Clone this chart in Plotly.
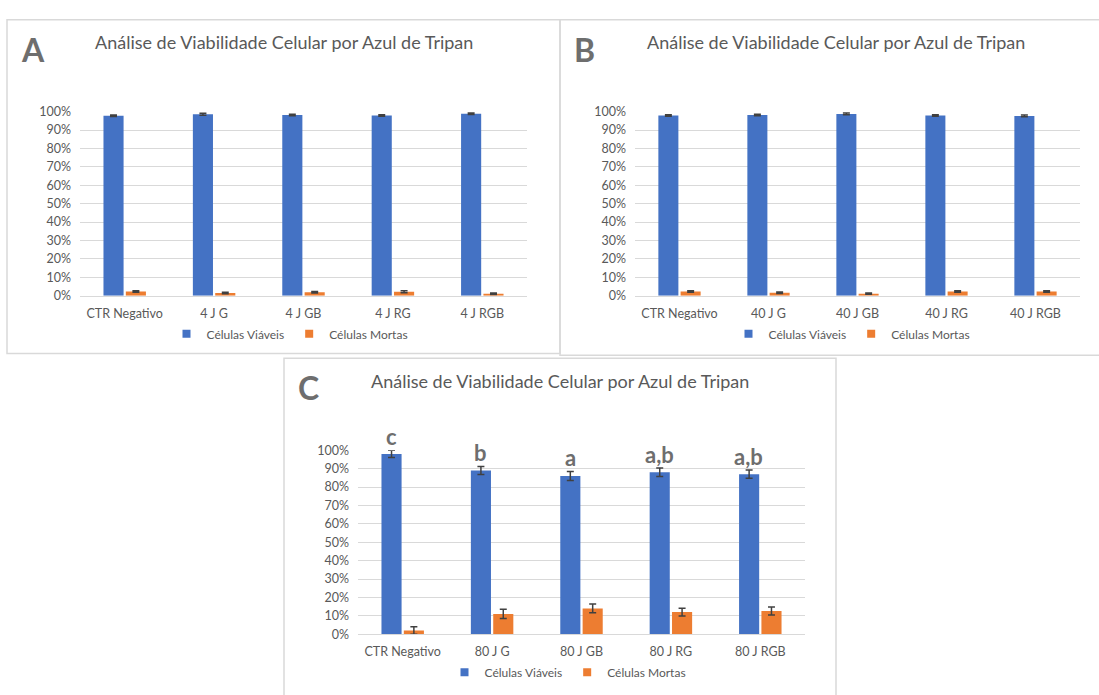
import plotly.graph_objects as go

# ---- data (percent of cells) ----
groups_a = ["CTR Negativo", "4 J G", "4 J GB", "4 J RG", "4 J RGB"]
viaveis_a = [97.8, 98.6, 98.2, 97.9, 98.9]
viaveis_a_err = [0.4, 0.5, 0.4, 0.4, 0.4]
mortas_a = [2.3, 1.4, 1.8, 2.1, 1.0]
mortas_a_err = [0.4, 0.4, 0.4, 0.5, 0.4]

groups_b = ["CTR Negativo", "40 J G", "40 J GB", "40 J RG", "40 J RGB"]
viaveis_b = [97.9, 98.2, 98.8, 97.9, 97.7]
viaveis_b_err = [0.4, 0.4, 0.5, 0.4, 0.5]
mortas_b = [2.3, 1.6, 1.1, 2.3, 2.3]
mortas_b_err = [0.4, 0.4, 0.4, 0.4, 0.4]

groups_c = ["CTR Negativo", "80 J G", "80 J GB", "80 J RG", "80 J RGB"]
viaveis_c = [98.0, 89.0, 86.0, 88.0, 87.0]
viaveis_c_err = [2.0, 2.2, 2.4, 2.3, 2.2]
mortas_c = [2.0, 11.0, 14.0, 12.0, 12.6]
mortas_c_err = [2.0, 2.5, 2.4, 2.1, 2.2]
letras_c = ["c", "b", "a", "a,b", "a,b"]

series_names = ["Células Viáveis", "Células Mortas"]
panel_letters = ["A", "B", "C"]
title_text = "Análise de Viabilidade Celular por Azul de Tripan"

# ---- styling ----
W, H = 1099, 695
BLUE = "#4472C4"
ORANGE = "#ED7D31"
GRID = "#D9D9D9"
TXT = "#595959"
FONT = "Lato"


def px(x):
    return x / W


def py(y):
    return 1 - y / H


fig = go.Figure()

panels = [
    dict(ax="", leg="legend", groups=groups_a,
         v=viaveis_a, ve=viaveis_a_err, m=mortas_a, me=mortas_a_err,
         plot=(80, 106, 527, 294), box=(7, 12, 560, 353), legc=(290, 333)),
    dict(ax="2", leg="legend2", groups=groups_b,
         v=viaveis_b, ve=viaveis_b_err, m=mortas_b, me=mortas_b_err,
         plot=(635, 106, 1080, 294), box=(560, 12, 1112, 355), legc=(852, 333)),
    dict(ax="3", leg="legend3", groups=groups_c,
         v=viaveis_c, ve=viaveis_c_err, m=mortas_c, me=mortas_c_err,
         plot=(358, 452, 805, 640), box=(284, 358, 836, 720), legc=(568, 679)),
]

for i, p in enumerate(panels):
    xa, ya = "x" + p["ax"], "y" + p["ax"]
    for name, vals, errs, color in [
        (series_names[0], p["v"], p["ve"], BLUE),
        (series_names[1], p["m"], p["me"], ORANGE),
    ]:
        fig.add_trace(go.Bar(
            x=p["groups"], y=vals, name=name, showlegend=False,
            marker=dict(color=color, line=dict(width=0)),
            error_y=dict(type="data", array=errs, visible=True,
                         color="#404040", thickness=1.5, width=3.5),
            xaxis=xa, yaxis=ya,
        ))
        # small square legend key for this series
        fig.add_trace(go.Scatter(
            x=[None], y=[None], mode="markers", name=name,
            marker=dict(symbol="square", size=8, color=color),
            xaxis=xa, yaxis=ya, legend=p["leg"], showlegend=True,
        ))

    x0, y0, x1, y1 = p["plot"]
    key = p["ax"]
    fig.layout["xaxis" + key] = dict(
        domain=[px(x0), px(x1)], anchor=ya,
        showgrid=False, showline=True, linecolor=GRID, linewidth=1,
        ticks="", tickfont=dict(family=FONT, size=12.5, color=TXT),
        ticklabelstandoff=6,
    )
    fig.layout["yaxis" + key] = dict(
        domain=[py(y1), py(y0)], anchor=xa,
        range=[0, 100], dtick=10, ticksuffix="%",
        showgrid=True, gridcolor=GRID, gridwidth=1,
        zeroline=False, showline=False, ticks="",
        tickfont=dict(family=FONT, size=12.5, color=TXT),
        ticklabelstandoff=8,
    )

    # legend under each chart
    lx, ly = p["legc"]
    fig.layout[p["leg"]] = dict(
        orientation="h", x=px(lx), y=py(ly), xanchor="center", yanchor="middle",
        font=dict(family=FONT, size=12, color=TXT),
        itemwidth=30, bgcolor="rgba(0,0,0,0)", traceorder="normal",
    )

    # panel frame
    bx0, by0, bx1, by1 = p["box"]
    fig.add_shape(type="rect", xref="paper", yref="paper",
                  x0=px(bx0), x1=px(bx1), y0=py(by1), y1=py(by0),
                  line=dict(color=GRID, width=1.5), layer="below")

    # panel title and letter
    fig.add_annotation(xref="paper", yref="paper",
                       x=px((bx0 + bx1) / 2), y=py(by0 + 23),
                       text=title_text, showarrow=False,
                       xanchor="center", yanchor="middle",
                       font=dict(family=FONT, size=18, color=TXT))
    fig.add_annotation(xref="paper", yref="paper",
                       x=px(bx0 + 12), y=py(by0 + 30),
                       text="<b>%s</b>" % panel_letters[i], showarrow=False,
                       xanchor="left", yanchor="middle",
                       font=dict(family=FONT, size=32, color="#6E6E6E"))

# significance letters above the viable-cell bars of panel C
for g, v, e, lab in zip(groups_c, viaveis_c, viaveis_c_err, letras_c):
    fig.add_annotation(xref="x3", yref="y3", x=g, y=v + e, xshift=-11.5,
                       text="<b>%s</b>" % lab, showarrow=False,
                       yanchor="middle", yshift=14,
                       font=dict(family=FONT, size=22, color="#6E6E6E"))

fig.update_layout(
    width=W, height=H,
    margin=dict(l=0, r=0, t=0, b=0),
    paper_bgcolor="white", plot_bgcolor="white",
    barmode="group", bargap=0.5, bargroupgap=0.1,
    font=dict(family=FONT, color=TXT),
)

fig.write_html("out.html")
